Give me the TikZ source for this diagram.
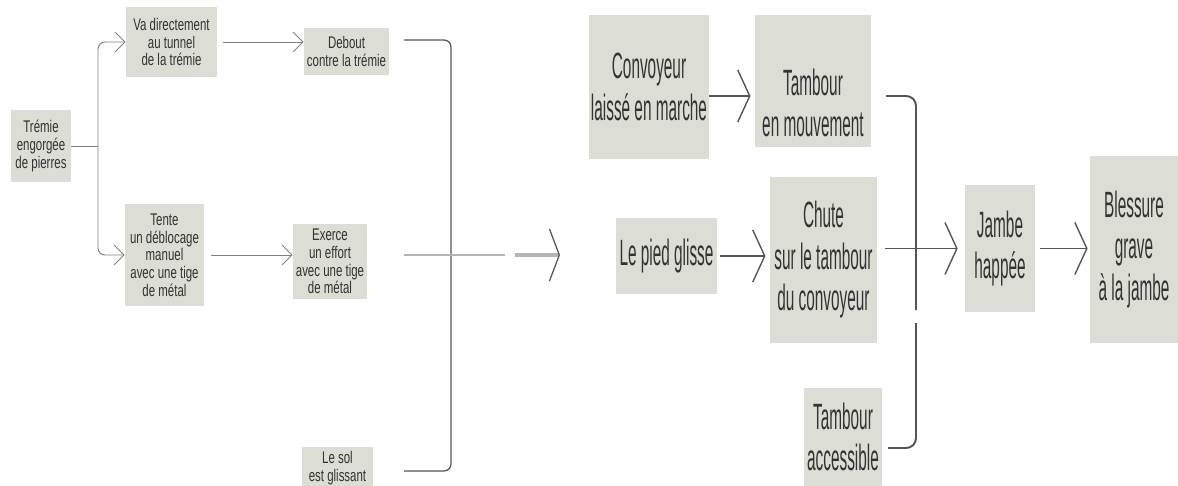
\documentclass[tikz,border=0pt]{standalone}
\usepackage{fontspec}
\setmainfont{Liberation Sans}
\newfontfamily\smallcond[FakeStretch=0.68]{Liberation Sans}
\newfontfamily\bigcond[FakeStretch=0.42]{Liberation Sans}
\usetikzlibrary{arrows.meta}
\definecolor{boxfill}{HTML}{DCDDD5}
\definecolor{txtgray}{HTML}{333333}
\definecolor{linegray}{HTML}{808080}
\definecolor{darkline}{HTML}{555555}
\definecolor{lightline}{HTML}{B5B5B5}
\tikzset{
  box/.style={fill=boxfill, align=center, inner sep=0pt, text=txtgray},
  smallbox/.style={box, font=\smallcond\fontsize{12}{12.6}\selectfont},
  bigbox/.style={box, font=\bigcond\fontsize{26}{29.5}\selectfont},
  link/.style={draw=linegray, line width=0.7pt},
  arr/.style={link, -{Straight Barb[length=7pt,width=14pt,line width=0.7pt]}},
  bigarr/.style={draw=darkline, line width=1.4pt, -{Straight Barb[length=8.5pt,width=37pt,line width=1pt]}},
  bracket/.style={draw=darkline, line width=0.9pt, rounded corners=5},
  bigbracket/.style={draw=darkline, line width=1.4pt, rounded corners=7}
}
\begin{document}
\begin{tikzpicture}[x=0.025cm, y=-0.025cm]
    \useasboundingbox (0,0) rectangle (1178,486);

    % left - first causes
    \node [smallbox, minimum width=1.5cm, minimum height=1.8cm] (tremie) at (41,146) {Trémie\\engorgée\\de pierres};
    \node [smallbox, minimum width=2.275cm, minimum height=1.75cm] (tunnel) at (171.5,42) {Va directement\\au tunnel\\de la trémie};
    \node [smallbox, minimum width=2.125cm, minimum height=1.175cm] (debout) at (346.5,51.5) {Debout\\contre la trémie};
    \node [smallbox, minimum width=1.975cm, minimum height=2.55cm] (tente) at (164.5,255) {Tente\\un déblocage\\manuel\\avec une tige\\de métal};
    \node [smallbox, minimum width=1.85cm, minimum height=1.875cm] (effort) at (330,261.5) {Exerce\\un effort\\avec une tige\\de métal};
    \node [smallbox, minimum width=1.775cm, minimum height=1.05cm] (sol) at (337.5,468) {Le sol\\est glissant};

    \coordinate (fork) at (98,148);
    \draw [link] (tremie.east) -- (tremie.east -| fork);
    \draw [arr, rounded corners=5] (fork) |- (tunnel.west);
    \draw [arr, rounded corners=5] (fork) |- (tente.west);
    \draw [arr, shorten <=4pt] (tunnel.east) -- (tunnel.east -| debout.west);
    \draw [arr, shorten <=5pt] (tente.east) -- (tente.east -| effort.west);

    % left bracket
    \coordinate (b1) at (404,40);
    \coordinate (b2) at (404,471);
    \coordinate (b3) at (404,255);
    \coordinate (bk) at (451,255);
    \coordinate (m1) at (505,255);
    \coordinate (m2) at (515,255);
    \coordinate (out1) at (560,255);
    \draw [bracket] (b1) -| (bk) |- (b2);
    \draw [draw=lightline, line width=0.9pt] (b3) -- (m1);
    \draw [draw=lightline, line width=2.4pt, -{Straight Barb[length=7pt,width=37pt,line width=0.9pt,color=darkline]}] (m2) -- (out1);

    % right - convoyeur
    \node [bigbox, minimum width=3cm, minimum height=3.6cm] (convoyeur) at (649,87) {Convoyeur\\laissé en marche};
    \node [bigbox, minimum width=2.9cm, minimum height=3.3cm] (tambour) at (813,81) {\rule{0pt}{50pt}Tambour\\en mouvement};
    \node [bigbox, minimum width=2.525cm, minimum height=1.9cm] (pied) at (666.5,256) {Le pied glisse};
    \node [bigbox, minimum width=2.675cm, minimum height=4.15cm] (chute) at (823.5,260) {Chute\\sur le tambour\\du convoyeur};
    \node [bigbox, minimum width=1.95cm, minimum height=2.45cm] (accessible) at (843,437) {Tambour\\accessible};
    \node [bigbox, minimum width=1.75cm, minimum height=3.175cm] (jambe) at (1000,248.5) {Jambe\\happée};
    \node [bigbox, minimum width=2.2cm, minimum height=4.675cm] (blessure) at (1134,249.5) {Blessure\\grave\\à la jambe};

    \draw [bigarr, shorten >=3pt] ([yshift=-9*0.025cm]convoyeur.east) -- ([yshift=-9*0.025cm]convoyeur.east -| tambour.west);
    \draw [bigarr, shorten <=2pt, shorten >=3pt] (pied.east) -- (pied.east -| chute.west);

    % right bracket
    \coordinate (c1) at (886,96);
    \coordinate (c2) at (888,448);
    \coordinate (ck1) at (916,310);
    \coordinate (ck2) at (916,323);
    \draw [bigbracket] (c1) -| (ck1);
    \draw [bigbracket] (ck2) |- (c2);
    \draw [bigarr, shorten <=5.7pt, shorten >=5pt] (jambe.west -| chute.east) -- (jambe.west);
    \draw [bigarr, shorten <=3.5pt, shorten >=1.5pt] (jambe.east) -- (jambe.east -| blessure.west);
\end{tikzpicture}
\end{document}
